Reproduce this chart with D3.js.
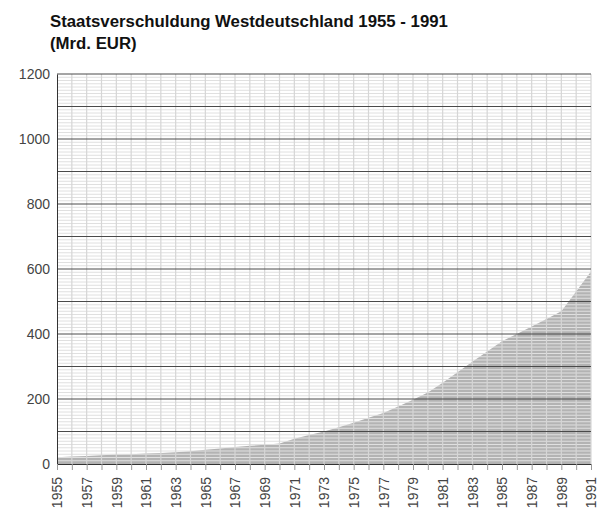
<!DOCTYPE html>
<html>
<head>
<meta charset="utf-8">
<script src="https://cdn.jsdelivr.net/npm/d3@7"></script>
<style>
  body { margin: 0; background: #fff; }
  text { font-family: "Liberation Sans", Arial, Helvetica, sans-serif; }
</style>
</head>
<body>
<div class="chart"></div>
<script>
// DATA
// ----------------------------
const years = d3.range(1955, 1992)
const debt = [
  21, 23, 25, 27, 29, 30, 32, 34, 36, 39,
  44, 48, 52, 56, 59, 63, 78, 89, 100, 113,
  127, 142, 157, 177, 198, 220, 250, 282, 315, 346,
  378, 400, 423, 446, 470, 531, 592
]
const yTickLabels = [0, 200, 400, 600, 800, 1000, 1200]
const titleLines = ['Staatsverschuldung Westdeutschland 1955 - 1991', '(Mrd. EUR)']

const data = years.map((y, i) => ({ year: y, value: debt[i] }))

// SETUP
// ----------------------------
const margin = { top: 74, bottom: 47, left: 57, right: 7 }
const fullWidth = 598
const fullHeight = 511
const width = fullWidth - margin.left - margin.right
const height = fullHeight - margin.top - margin.bottom

const root = d3.select('.chart')
  .append('svg')
    .attr('width', fullWidth)
    .attr('height', fullHeight)

const svg = root.append('g')
    .attr('transform', `translate(${margin.left}, ${margin.top})`)

// title
root.append('g')
  .selectAll('text')
  .data(titleLines)
  .enter()
  .append('text')
    .attr('x', 50)
    .attr('y', (d, i) => 27 + i * 22)
    .style('font-size', '16.8px')
    .style('font-weight', 'bold')
    .style('fill', '#111')
    .text(d => d)

// SCALES
// ----------------------------
const xScale = d3.scaleLinear()
  .domain([1955, 1991])
  .range([0, width])

const yScale = d3.scaleLinear()
  .domain([0, 1200])
  .range([height, 0])

// AREA
// ----------------------------
const area = d3.area()
  .x(d => xScale(d.year))
  .y0(height)
  .y1(d => yScale(d.value))

svg.append('path')
  .datum(data)
  .attr('d', area)
  .style('fill', '#b3b3b3')

// GRID
// ----------------------------
// minor horizontal every 10
svg.append('g')
  .selectAll('line')
  .data(d3.range(10, 1200, 10).filter(v => v % 100 !== 0))
  .enter()
  .append('line')
    .attr('x1', 0)
    .attr('x2', width)
    .attr('y1', d => yScale(d))
    .attr('y2', d => yScale(d))
    .style('stroke', '#e0e0e0')
    .style('stroke-width', 1)

// vertical every year
svg.append('g')
  .selectAll('line')
  .data(years.slice(1))
  .enter()
  .append('line')
    .attr('x1', d => xScale(d))
    .attr('x2', d => xScale(d))
    .attr('y1', 0)
    .attr('y2', height)
    .style('stroke', '#d6d6d6')
    .style('stroke-width', 1.2)

// major horizontal every 100
svg.append('g')
  .selectAll('line')
  .data(d3.range(100, 1201, 100))
  .enter()
  .append('line')
    .attr('x1', 0)
    .attr('x2', width)
    .attr('y1', d => yScale(d))
    .attr('y2', d => yScale(d))
    .style('stroke', '#4a4a4a')
    .style('stroke-width', 1)

// AXES
// ----------------------------
const yAxis = d3.axisLeft(yScale)
  .tickValues(yTickLabels)
  .tickSize(0)
  .tickPadding(7)
  .tickFormat(d3.format('d'))
const gy = svg.append('g').call(yAxis)
gy.select('.domain').style('stroke', '#333')
gy.selectAll('text')
  .style('font-size', '14px')
  .style('fill', '#444')
  .style('font-family', '"Liberation Sans", Arial, sans-serif')

const xAxis = d3.axisBottom(xScale)
  .tickValues(years)
  .tickSize(6)
  .tickSizeOuter(0)
  .tickFormat(d => (d % 2 === 1 ? String(d) : ''))
const gx = svg.append('g')
  .attr('transform', `translate(0, ${height})`)
  .call(xAxis)
gx.select('.domain').style('stroke', '#333')
gx.selectAll('.tick line').style('stroke', '#999')
gx.selectAll('text')
  .attr('transform', 'rotate(-90)')
  .attr('x', -13)
  .attr('y', 0)
  .attr('dy', '0.35em')
  .style('text-anchor', 'end')
  .style('font-size', '14px')
  .style('fill', '#444')
  .style('font-family', '"Liberation Sans", Arial, sans-serif')
</script>
</body>
</html>
